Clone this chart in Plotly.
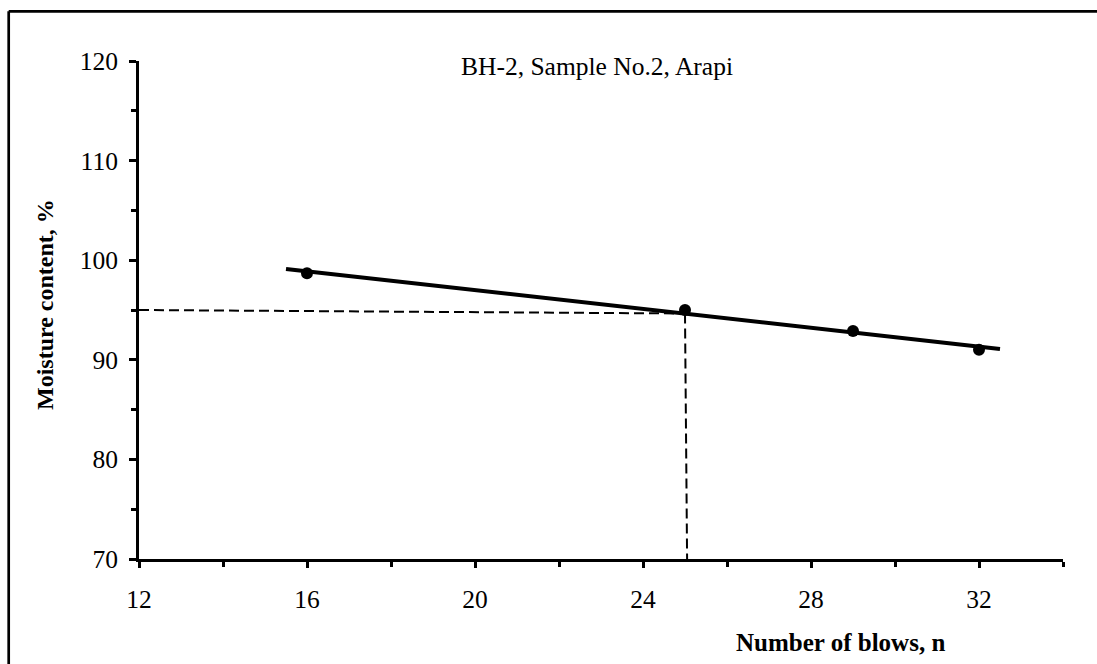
import numpy as np
import plotly.graph_objects as go

# Liquid limit test: number of blows vs moisture content
blows = [16, 25, 29, 32]
moisture = [98.7, 95.0, 92.9, 91.0]

# Extent of the fitted flow line
fit_x = [15.5, 32.5]

# Guide lines reading the moisture content at 25 blows
guide_h_x = [12, 25]
guide_h_y = [95.0, 94.65]
guide_v_x = [25, 25.05]
guide_v_y = [94.65, 70]

title_text = "BH-2, Sample No.2, Arapi"
x_title = "Number of blows, n"
y_title = "Moisture content, %"

slope, intercept = np.polyfit(blows, moisture, 1)
fit_y = [slope * v + intercept for v in fit_x]

FONT = "Liberation Serif, Times New Roman, serif"
W, H = 1097, 664
L, R, T, B = 139, 34, 61, 105
pw, ph = W - L - R, H - T - B


def px_to_paper(x, y):
    return (x - L) / pw, (H - B - y) / ph


fig = go.Figure()

fig.add_trace(go.Scatter(
    x=guide_h_x, y=guide_h_y, mode="lines",
    line=dict(color="black", width=2, dash="10px,5px"),
    hoverinfo="skip", showlegend=False))
fig.add_trace(go.Scatter(
    x=guide_v_x, y=guide_v_y, mode="lines",
    line=dict(color="black", width=2, dash="10px,5px"),
    hoverinfo="skip", showlegend=False))
fig.add_trace(go.Scatter(
    x=fit_x, y=fit_y, mode="lines",
    line=dict(color="black", width=4),
    showlegend=False))
fig.add_trace(go.Scatter(
    x=blows, y=moisture, mode="markers",
    marker=dict(color="black", size=12),
    showlegend=False))

axis_common = dict(
    showgrid=False, zeroline=False, showline=True,
    linecolor="black", linewidth=3,
    ticks="outside", tickcolor="black", tickwidth=2.5,
    tickfont=dict(family=FONT, size=25.5, color="black"),
)

fig.update_xaxes(
    range=[12, 34], tick0=12, dtick=4, ticklen=6,
    ticklabelstandoff=9,
    minor=dict(ticks="outside", dtick=2, tick0=12, ticklen=5,
               tickwidth=2.5, tickcolor="black", showgrid=False),
    **axis_common)
fig.update_yaxes(
    range=[70, 120], tick0=70, dtick=10, ticklen=7,
    ticklabelstandoff=6,
    minor=dict(ticks="outside", dtick=5, tick0=70, ticklen=5,
               tickwidth=2.5, tickcolor="black", showgrid=False),
    **axis_common)

# Outer frame around the chart: only its top and left edges lie on the page
fx, fy = px_to_paper(8.7, 11.3)
ex, ey = px_to_paper(W, H)
fig.add_shape(type="line", xref="paper", yref="paper",
              x0=fx, y0=fy, x1=ex, y1=fy,
              line=dict(color="black", width=2.7), layer="above")
fig.add_shape(type="line", xref="paper", yref="paper",
              x0=fx, y0=fy, x1=fx, y1=ey,
              line=dict(color="black", width=2.7), layer="above")

tx, ty = px_to_paper(597, 66)
fig.add_annotation(text=title_text, xref="paper", yref="paper",
                   x=tx, y=ty, xanchor="center", yanchor="middle",
                   showarrow=False,
                   font=dict(family=FONT, size=25.5, color="black"))
ax_, ay_ = px_to_paper(840, 643)
fig.add_annotation(text="<b>" + x_title + "</b>", xref="paper", yref="paper",
                   x=ax_, y=ay_, xanchor="center", yanchor="middle",
                   showarrow=False,
                   font=dict(family=FONT, size=25, color="black"))
bx, by = px_to_paper(45, 305)
fig.add_annotation(text="<b>" + y_title + "</b>", xref="paper", yref="paper",
                   x=bx, y=by, xanchor="center", yanchor="middle",
                   textangle=-90, showarrow=False,
                   font=dict(family=FONT, size=24, color="black"))

fig.update_layout(
    width=W, height=H,
    margin=dict(l=L, r=R, t=T, b=B),
    paper_bgcolor="white", plot_bgcolor="white",
    showlegend=False,
)

fig.write_html("out.html")
